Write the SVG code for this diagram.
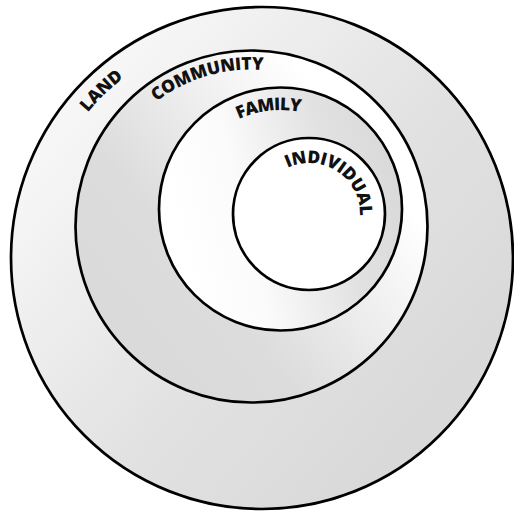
<svg xmlns="http://www.w3.org/2000/svg" width="514" height="514" viewBox="0 0 514 514">
  <style>
    .ring { stroke: #000; stroke-width: 2.7; }
    .lbl { font-family: "Open Sans", "Lato", "DejaVu Sans", sans-serif; font-weight: 800; font-size: 17.5px; fill: #111; }
  </style>
  <defs>
    <linearGradient id="gLand" gradientUnits="userSpaceOnUse" x1="70" y1="130" x2="420" y2="430">
      <stop offset="0" stop-color="#f6f6f6"/>
      <stop offset="0.55" stop-color="#e2e2e2"/>
      <stop offset="1" stop-color="#d9d9d9"/>
    </linearGradient>
    <linearGradient id="gComm" gradientUnits="userSpaceOnUse" x1="100" y1="380" x2="420" y2="120">
      <stop offset="0" stop-color="#d9d9d9"/>
      <stop offset="0.35" stop-color="#dcdcdc"/>
      <stop offset="0.85" stop-color="#ffffff"/>
      <stop offset="1" stop-color="#ffffff"/>
    </linearGradient>
    <linearGradient id="gFam" gradientUnits="userSpaceOnUse" x1="175" y1="230" x2="400" y2="175">
      <stop offset="0" stop-color="#ffffff"/>
      <stop offset="0.3" stop-color="#fbfbfb"/>
      <stop offset="0.7" stop-color="#e2e2e2"/>
      <stop offset="1" stop-color="#d9d9d9"/>
    </linearGradient>
    <path id="pLand" d="M36.3,233.5 A227,227 0 0 1 246.9,31.5"/>
    <path id="pComm" d="M120.6,139.9 A157,157 0 0 1 314.1,82.5"/>
    <path id="pFam" d="M208.6,141.0 A99,99 0 0 1 335.0,126.4"/>
    <path id="pInd" d="M278.7,173.0 A51,51 0 0 1 358.6,225.9"/>
  </defs>

  <g id="land">
    <circle class="ring" cx="262" cy="258" r="251" fill="url(#gLand)"/>
    <text class="lbl"><textPath href="#pLand" startOffset="50%" text-anchor="middle" textLength="50" lengthAdjust="spacing">LAND</textPath></text>
  </g>
  <g id="community">
    <circle class="ring" cx="251.5" cy="226.5" r="176" fill="url(#gComm)"/>
    <text class="lbl"><textPath href="#pComm" startOffset="50%" text-anchor="middle" textLength="114" lengthAdjust="spacing">COMMUNITY</textPath></text>
  </g>
  <g id="family">
    <circle class="ring" cx="280.5" cy="209" r="121.5" fill="url(#gFam)"/>
    <text class="lbl"><textPath href="#pFam" startOffset="50%" text-anchor="middle" textLength="63" lengthAdjust="spacing">FAMILY</textPath></text>
  </g>
  <g id="individual">
    <circle class="ring" cx="309" cy="214" r="76" fill="#ffffff"/>
    <text class="lbl"><textPath href="#pInd" startOffset="50%" text-anchor="middle" textLength="104" lengthAdjust="spacing">INDIVIDUAL</textPath></text>
  </g>
  <g id="connectors"/>
</svg>
